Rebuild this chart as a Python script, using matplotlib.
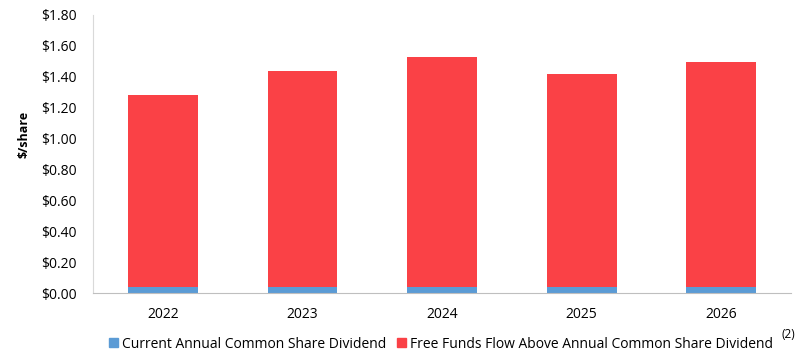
import matplotlib
matplotlib.use("Agg")
import matplotlib.pyplot as plt
from matplotlib.patches import Patch

years = ["2022", "2023", "2024", "2025", "2026"]
dividend = [0.04, 0.04, 0.04, 0.04, 0.04]
free_flow = [1.242, 1.398, 1.488, 1.378, 1.456]
yticks = [0.0, 0.2, 0.4, 0.6, 0.8, 1.0, 1.2, 1.4, 1.6, 1.8]

plt.rcParams['font.family'] = ['Open Sans', 'DejaVu Sans']
blue = "#5B9BD5"
red = "#FA4146"

fig = plt.figure(figsize=(8.07, 3.52), dpi=100)
ax = fig.add_axes([93/807, 1 - 293/352, 698/807, 278/352])
x = list(range(len(years)))
ax.bar(x, dividend, width=0.5, color=blue, edgecolor="none")
ax.bar(x, free_flow, width=0.5, bottom=dividend, color=red, edgecolor="none")
ax.set_xlim(-0.5, len(years) - 0.5)
ax.set_ylim(0, 1.8)
ax.set_yticks(yticks)
ax.set_yticklabels([f"${v:.2f}" for v in yticks], fontsize=10)
ax.set_xticks(x)
ax.set_xticklabels(years, fontsize=10)
ax.tick_params(axis='both', length=0)
ax.tick_params(axis='y', pad=12)
ax.tick_params(axis='x', pad=10)
for s in ["top", "right"]:
    ax.spines[s].set_visible(False)
ax.spines["left"].set_color("#D9D9D9")
ax.spines["bottom"].set_color("#BFBFBF")
ax.set_ylabel("$/share", fontsize=9, fontweight="bold")
ax.yaxis.set_label_coords((31 - 93) / 698, (293 - 134) / 278)

handles = [Patch(color=blue), Patch(color=red)]
labels = ["Current Annual Common Share Dividend",
          "Free Funds Flow Above Annual Common Share Dividend"]
leg = fig.legend(handles, labels, loc="center", bbox_to_anchor=(441/807, 1 - 344/352),
                 ncol=2, frameon=False, fontsize=10, handlelength=0.6, handleheight=0.6,
                 handletextpad=0.3, columnspacing=0.8, borderaxespad=0)
fig.text(782/807, 1 - 335/352, "(2)", fontsize=8.5, ha="left", va="center")
fig.savefig("out.png", dpi=100)
